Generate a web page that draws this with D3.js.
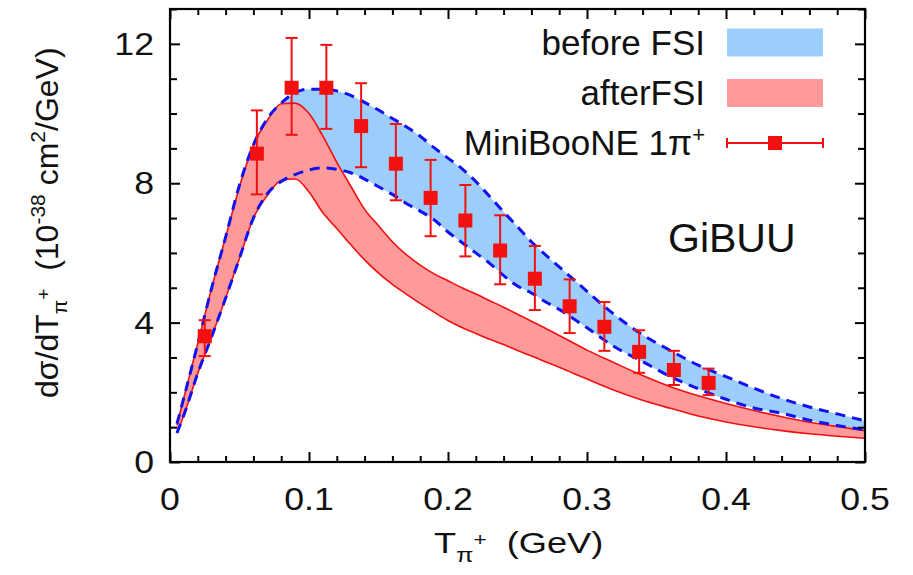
<!DOCTYPE html>
<html>
<head>
<meta charset="utf-8">
<script src="https://cdn.jsdelivr.net/npm/d3@7"></script>
<style>
  html, body { margin: 0; padding: 0; background: #fff; }
  svg { display: block; }
  text { font-family: "Liberation Sans", Arial, Helvetica, sans-serif; fill: #111; }
</style>
</head>
<body>
<svg id="chart" width="913" height="575"></svg>
<script>
// ---------------- data ----------------
const T = [0.005, 0.01, 0.02, 0.03, 0.04, 0.05, 0.06, 0.07, 0.08, 0.09, 0.10, 0.11, 0.12, 0.13, 0.14, 0.15, 0.16, 0.17, 0.18, 0.19, 0.20, 0.21, 0.22, 0.23, 0.24, 0.25, 0.26, 0.27, 0.28, 0.29, 0.30, 0.32, 0.34, 0.36, 0.38, 0.40, 0.42, 0.44, 0.46, 0.48, 0.50];
const beforeUpper = [1.10, 1.85, 3.40, 5.00, 6.45, 7.95, 9.10, 9.85, 10.30, 10.60, 10.70, 10.70, 10.65, 10.52, 10.32, 10.10, 9.86, 9.62, 9.35, 9.02, 8.72, 8.42, 8.05, 7.62, 7.18, 6.75, 6.32, 5.95, 5.60, 5.25, 4.90, 4.22, 3.65, 3.20, 2.78, 2.45, 2.12, 1.82, 1.58, 1.38, 1.18];
const beforeLower = [0.83, 1.35, 2.55, 3.60, 4.70, 5.85, 7.00, 7.70, 8.05, 8.25, 8.38, 8.44, 8.40, 8.30, 8.12, 7.90, 7.68, 7.42, 7.20, 6.95, 6.60, 6.30, 6.00, 5.70, 5.35, 5.05, 4.85, 4.60, 4.38, 4.12, 3.85, 3.30, 2.88, 2.45, 2.10, 1.80, 1.55, 1.40, 1.20, 1.05, 0.92];
const afterUpper = [1.06, 1.85, 3.40, 5.00, 6.45, 7.90, 9.10, 9.80, 10.28, 10.30, 10.00, 9.35, 8.60, 7.92, 7.25, 6.78, 6.32, 5.95, 5.65, 5.40, 5.20, 5.00, 4.82, 4.63, 4.44, 4.24, 4.04, 3.84, 3.63, 3.42, 3.21, 2.84, 2.48, 2.16, 1.90, 1.68, 1.48, 1.30, 1.14, 1.02, 0.90];
const afterLower = [0.83, 1.35, 2.55, 3.60, 4.70, 5.85, 7.00, 7.65, 8.08, 8.12, 7.75, 7.15, 6.70, 6.24, 5.80, 5.42, 5.10, 4.82, 4.55, 4.30, 4.06, 3.86, 3.69, 3.52, 3.37, 3.20, 3.04, 2.88, 2.72, 2.55, 2.38, 2.05, 1.77, 1.54, 1.32, 1.15, 1.01, 0.90, 0.81, 0.74, 0.68];

const dataT   = [0.025, 0.0625, 0.0875, 0.1125, 0.1375, 0.1625, 0.1875, 0.2125, 0.2375, 0.2625, 0.2875, 0.3125, 0.3375, 0.3625, 0.3875];
const dataVal = [3.61, 8.85, 10.74, 10.74, 9.64, 8.56, 7.58, 6.93, 6.07, 5.26, 4.47, 3.88, 3.16, 2.64, 2.27];
const dataLo  = [3.04, 7.68, 9.39, 9.56, 8.46, 7.51, 6.48, 5.90, 5.10, 4.36, 3.70, 3.19, 2.56, 2.21, 1.92];
const dataHi  = [4.07, 10.09, 12.17, 11.97, 10.87, 9.70, 8.67, 7.95, 7.08, 6.20, 5.24, 4.59, 3.78, 3.19, 2.68];

const xTicks = [0, 0.1, 0.2, 0.3, 0.4, 0.5];
const xTickLabels = ["0", "0.1", "0.2", "0.3", "0.4", "0.5"];
const yTicks = [0, 4, 8, 12];
const yTickLabels = ["0", "4", "8", "12"];
const legendLabels = ["before FSI", "afterFSI", "MiniBooNE 1π"];

// ---------------- drawing ----------------
const svg = d3.select("#chart");
const x = d3.scaleLinear().domain([0, 0.5]).range([170, 865]);
const y = d3.scaleLinear().domain([0, 13]).range([462, 9]);

const blueFill = "#9dcdfb", redFill = "#ff9a9a", red = "#f21010", blue = "#1212f0";
const NB = "\u00a0";

const idx = d3.range(T.length);
const curve = d3.curveMonotoneX;

const band = (lo, hi) => d3.area().curve(curve)
  .x(i => x(T[i])).y0(i => y(lo[i])).y1(i => y(hi[i]));
const line = arr => d3.line().curve(curve).x(i => x(T[i])).y(i => y(arr[i]));

svg.append("path").attr("d", band(beforeLower, beforeUpper)(idx)).attr("fill", blueFill);
svg.append("path").attr("d", band(afterLower, afterUpper)(idx)).attr("fill", redFill);
[afterUpper, afterLower].forEach(a =>
  svg.append("path").attr("d", line(a)(idx)).attr("fill", "none")
    .attr("stroke", red).attr("stroke-width", 1.6));
[beforeUpper, beforeLower].forEach(a =>
  svg.append("path").attr("d", line(a)(idx)).attr("fill", "none")
    .attr("stroke", blue).attr("stroke-width", 3).attr("stroke-dasharray", "10,7"));

// data points
const pts = svg.append("g");
dataT.forEach((t, i) => {
  const cx = x(t);
  pts.append("line").attr("x1", cx).attr("x2", cx).attr("y1", y(dataLo[i])).attr("y2", y(dataHi[i]))
    .attr("stroke", red).attr("stroke-width", 2);
  [dataLo[i], dataHi[i]].forEach(v =>
    pts.append("line").attr("x1", cx - 6).attr("x2", cx + 6).attr("y1", y(v)).attr("y2", y(v))
      .attr("stroke", red).attr("stroke-width", 2));
  pts.append("rect").attr("x", cx - 7).attr("y", y(dataVal[i]) - 7).attr("width", 14).attr("height", 14)
    .attr("fill", red);
});

// axes (inward ticks, mirrored)
const frame = svg.append("g");
const xMinor = d3.range(0, 0.5001, 0.02).filter(v => Math.abs(v * 10 - Math.round(v * 10)) > 1e-6);
const yMinor = d3.range(0, 13.001, 1).filter(v => v % 4 !== 0);

frame.append("g").attr("transform", `translate(0,${y(0)})`)
  .call(d3.axisBottom(x).tickValues(xTicks).tickSize(-10).tickFormat(""));
frame.append("g").attr("transform", `translate(0,${y(0)})`)
  .call(d3.axisBottom(x).tickValues(xMinor).tickSize(-6).tickFormat(""));
frame.append("g").attr("transform", `translate(0,${y(13)})`)
  .call(d3.axisTop(x).tickValues(xTicks).tickSize(-10).tickFormat(""));
frame.append("g").attr("transform", `translate(0,${y(13)})`)
  .call(d3.axisTop(x).tickValues(xMinor).tickSize(-6).tickFormat(""));
frame.append("g").attr("transform", `translate(${x(0)},0)`)
  .call(d3.axisLeft(y).tickValues(yTicks).tickSize(-10).tickFormat(""));
frame.append("g").attr("transform", `translate(${x(0)},0)`)
  .call(d3.axisLeft(y).tickValues(yMinor).tickSize(-7).tickFormat(""));
frame.append("g").attr("transform", `translate(${x(0.5)},0)`)
  .call(d3.axisRight(y).tickValues(yTicks).tickSize(-10).tickFormat(""));
frame.append("g").attr("transform", `translate(${x(0.5)},0)`)
  .call(d3.axisRight(y).tickValues(yMinor).tickSize(-7).tickFormat(""));
frame.selectAll(".domain").remove();
frame.selectAll(".tick line").attr("stroke", "#000").attr("stroke-width", 2);
frame.append("rect").attr("x", x(0)).attr("y", y(13)).attr("width", x(0.5) - x(0)).attr("height", y(0) - y(13))
  .attr("fill", "none").attr("stroke", "#000").attr("stroke-width", 2.2);

// tick labels
xTicks.forEach((v, i) => {
  svg.append("text").attr("transform", `translate(${x(v)},510) scale(1.15,1)`)
    .attr("text-anchor", "middle").attr("font-size", 31).text(xTickLabels[i]);
});
yTicks.forEach((v, i) => {
  svg.append("text").attr("transform", `translate(154,${y(v) + 11}) scale(1.15,1)`)
    .attr("text-anchor", "end").attr("font-size", 31).text(yTickLabels[i]);
});

// x axis label
const xl = svg.append("text").attr("transform", "translate(434,553) scale(1.25,1)").attr("font-size", 29);
xl.append("tspan").text("T");
xl.append("tspan").attr("dy", 9).attr("font-size", 20).text("π");
xl.append("tspan").attr("dy", -16).attr("font-size", 18).text("+");
xl.append("tspan").attr("dy", 7).text(NB + NB + "(GeV)");

// y axis label
const yl = svg.append("text").attr("transform", "translate(58,398) rotate(-90)").attr("font-size", 32);
yl.append("tspan").text("dσ/dT");
yl.append("tspan").attr("dy", 9).attr("font-size", 21).text("π");
yl.append("tspan").attr("dy", -17).attr("font-size", 19).text("+");
yl.append("tspan").attr("dy", 8).text(NB + NB + "(10");
yl.append("tspan").attr("dy", -13).attr("font-size", 21).text("-38");
yl.append("tspan").attr("dy", 13).text(" cm");
yl.append("tspan").attr("dy", -13).attr("font-size", 21).text("2");
yl.append("tspan").attr("dy", 13).text("/GeV)");

// legend
const rows = [42.5, 93, 143];
const lg = svg.append("g");
rows.forEach((ry, i) => {
  const t = lg.append("text").attr("x", 705).attr("y", ry + 12).attr("text-anchor", "end").attr("font-size", 35);
  t.append("tspan").text(legendLabels[i]);
  if (i === 2) t.append("tspan").attr("dy", -13).attr("font-size", 22).text("+");
});
lg.append("rect").attr("x", 727).attr("y", rows[0] - 14).attr("width", 96).attr("height", 28).attr("fill", blueFill);
lg.append("rect").attr("x", 727).attr("y", rows[1] - 14).attr("width", 96).attr("height", 28).attr("fill", redFill);
lg.append("line").attr("x1", 727).attr("x2", 823).attr("y1", rows[2]).attr("y2", rows[2]).attr("stroke", red).attr("stroke-width", 2);
[727, 823].forEach(ex => lg.append("line").attr("x1", ex).attr("x2", ex).attr("y1", rows[2] - 5).attr("y2", rows[2] + 5)
  .attr("stroke", red).attr("stroke-width", 2));
lg.append("rect").attr("x", 775 - 7).attr("y", rows[2] - 7).attr("width", 14).attr("height", 14).attr("fill", red);

// annotation
svg.append("text").attr("x", 668).attr("y", 252).attr("font-size", 41).attr("fill", "#000").text("GiBUU");
</script>
</body>
</html>
